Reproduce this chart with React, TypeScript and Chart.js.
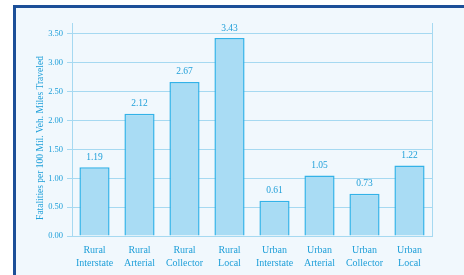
import React, { useEffect, useRef } from "react";
import { Chart, registerables } from "chart.js";

Chart.register(...registerables);

const categories: string[][] = [
  ["Rural", "Interstate"],
  ["Rural", "Arterial"],
  ["Rural", "Collector"],
  ["Rural", "Local"],
  ["Urban", "Interstate"],
  ["Urban", "Arterial"],
  ["Urban", "Collector"],
  ["Urban", "Local"],
];
const fatalityRates: number[] = [1.19, 2.12, 2.67, 3.43, 0.61, 1.05, 0.73, 1.22];
const yTickValues: number[] = [0, 0.5, 1, 1.5, 2, 2.5, 3, 3.5];
const yTitle = "Fatalities per 100 Mil. Veh. Miles Traveled";

const TEXT = "#1f9fd9";
const GRID = "#a6d9f1";
const FONT = "'Liberation Serif', 'DejaVu Serif', serif";

const valueLabels = {
  id: "valueLabels",
  afterDatasetsDraw(chart: any) {
    const ctx = chart.ctx;
    const meta = chart.getDatasetMeta(0);
    ctx.save();
    ctx.fillStyle = TEXT;
    ctx.font = `9.5px ${FONT}`;
    ctx.textAlign = "center";
    ctx.textBaseline = "middle";
    meta.data.forEach((bar: any, i: number) => {
      ctx.fillText(fatalityRates[i].toFixed(2), bar.x, bar.y - 10);
    });
    // y-axis title
    ctx.translate(40, 138);
    ctx.rotate(-Math.PI / 2);
    ctx.font = `9.5px ${FONT}`;
    ctx.fillText(yTitle, 0, 0);
    ctx.restore();
  },
};

export default function App() {
  const ref = useRef<HTMLCanvasElement>(null);
  useEffect(() => {
    if (!ref.current) return;
    const chart = new Chart(ref.current, {
      type: "bar",
      data: {
        labels: categories,
        datasets: [
          {
            data: fatalityRates,
            backgroundColor: "#a9dcf4",
            borderColor: "#33b2e8",
            borderWidth: 1.5,
            categoryPercentage: 1,
            barPercentage: 0.67,
          },
        ],
      },
      options: {
        animation: false,
        responsive: false,
        maintainAspectRatio: false,
        layout: { padding: { top: 23, left: 0, right: 0, bottom: 0 } },
        plugins: { legend: { display: false }, tooltip: { enabled: false } },
        scales: {
          x: {
            grid: { display: false },
            border: { display: false },
            ticks: {
              color: TEXT,
              padding: 0,
              maxRotation: 0,
              autoSkip: false,
              font: { family: FONT, size: 10, lineHeight: 1.3 },
            },
            afterFit: (s: any) => {
              s.height = 39;
            },
          },
          y: {
            min: 0,
            max: 3.69,
            afterBuildTicks: (s: any) => {
              s.ticks = yTickValues.map((v) => ({ value: v }));
            },
            grid: { color: GRID, lineWidth: 1, tickLength: 5 },
            border: { color: GRID, width: 1 },
            ticks: {
              color: TEXT,
              padding: 4,
              font: { family: FONT, size: 8.5 },
              callback: (v: any) => Number(v).toFixed(2),
            },
            afterFit: (s: any) => {
              s.width = 72;
            },
          },
          y2: {
            position: "right",
            min: 0,
            max: 1,
            grid: { drawOnChartArea: false, drawTicks: false },
            border: { color: GRID, width: 1 },
            ticks: { display: false },
            afterFit: (s: any) => {
              s.width = 32;
            },
          },
        },
      },
      plugins: [valueLabels],
    });
    return () => chart.destroy();
  }, []);

  return (
    <div
      style={{
        position: "fixed",
        left: 0,
        top: 0,
        width: 464,
        height: 275,
        background: "#ffffff",
        overflow: "hidden",
      }}
    >
      <div
        style={{
          position: "absolute",
          left: 13,
          top: 5,
          width: 480,
          height: 300,
          borderLeft: "3px solid #1c4f98",
          borderTop: "3px solid #1c4f98",
          background: "#f1f8fd",
        }}
      />
      <canvas
        ref={ref}
        width={464}
        height={275}
        style={{ position: "absolute", left: 0, top: 0, width: 464, height: 275 }}
      />
    </div>
  );
}
